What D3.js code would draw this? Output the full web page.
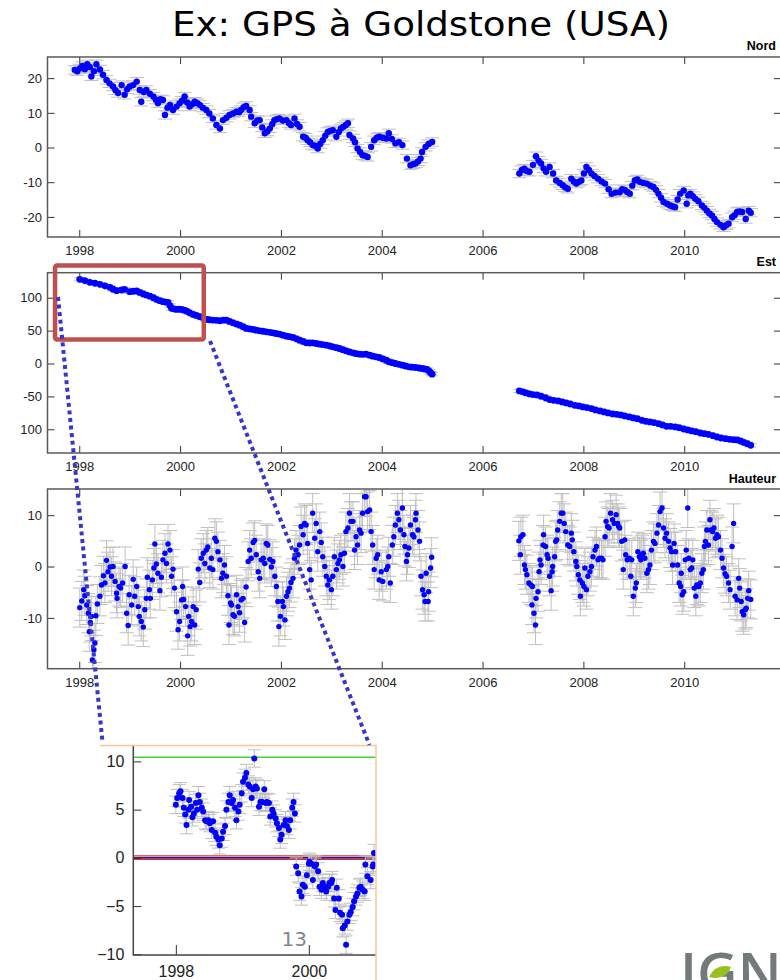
<!DOCTYPE html>
<html>
<head>
<meta charset="utf-8">
<script src="https://cdn.jsdelivr.net/npm/d3@7"></script>
<style>
  body { margin: 0; background: #fff; }
  svg { display: block; }
</style>
</head>
<body>
<svg id="chart" width="780" height="980"></svg>
<script>
// ---- Station GOLD time series (mm) : [decimal year, value] ----
const yearTicks = [1998, 2000, 2002, 2004, 2006, 2008, 2010];

const nordTicks = [-20, -10, 0, 10, 20];
const nordA = [[1997.91,22.4],[1997.96,22.0],[1998.01,22.8],[1998.06,23.5],[1998.11,22.6],[1998.16,24.0],[1998.21,23.2],[1998.24,20.5],[1998.29,22.0],[1998.34,24.0],[1998.41,22.5],[1998.47,21.0],[1998.54,19.5],[1998.60,18.5],[1998.67,17.6],[1998.72,16.5],[1998.77,15.7],[1998.84,18.0],[1998.90,15.2],[1998.95,16.8],[1999.00,17.6],[1999.07,18.0],[1999.14,19.0],[1999.20,16.6],[1999.23,13.2],[1999.28,16.0],[1999.33,16.6],[1999.40,15.5],[1999.47,14.7],[1999.52,13.8],[1999.56,12.8],[1999.61,13.9],[1999.66,13.7],[1999.70,9.4],[1999.75,11.5],[1999.80,12.3],[1999.86,10.8],[1999.93,11.8],[1999.99,12.8],[2000.04,13.5],[2000.09,14.7],[2000.14,13.0],[2000.19,11.8],[2000.24,12.5],[2000.29,13.2],[2000.34,12.8],[2000.39,12.3],[2000.45,11.5],[2000.52,10.8],[2000.58,9.8],[2000.65,8.4],[2000.72,6.5],[2000.79,5.5],[2000.85,7.9],[2000.92,8.6],[2000.98,9.4],[2001.05,9.8],[2001.12,10.3],[2001.17,10.2],[2001.21,10.8],[2001.26,11.6],[2001.31,12.0],[2001.38,10.8],[2001.41,8.9],[2001.48,7.0],[2001.53,7.8],[2001.58,7.9],[2001.63,5.8],[2001.68,4.1],[2001.73,4.6],[2001.78,5.5],[2001.83,6.8],[2001.87,7.9],[2001.92,8.2],[2001.97,8.4],[2002.04,7.8],[2002.11,7.9],[2002.16,7.0],[2002.20,6.5],[2002.27,8.4],[2002.32,6.8],[2002.37,6.0],[2002.44,3.1],[2002.49,2.8],[2002.53,2.1],[2002.58,1.5],[2002.63,0.7],[2002.68,0.5],[2002.73,-0.3],[2002.78,1.0],[2002.83,2.1],[2002.88,3.4],[2002.93,4.5],[2002.98,4.8],[2003.03,5.0],[2003.10,3.1],[2003.15,4.5],[2003.19,5.5],[2003.24,6.0],[2003.29,6.5],[2003.33,7.0],[2003.36,3.6],[2003.43,2.6],[2003.47,1.5],[2003.52,-0.3],[2003.57,-1.3],[2003.62,-2.2],[2003.67,-2.4],[2003.72,-2.7],[2003.79,0.2],[2003.85,2.1],[2003.90,2.8],[2003.95,3.1],[2004.02,2.8],[2004.09,2.6],[2004.14,4.1],[2004.20,2.5],[2004.27,1.2],[2004.34,1.5],[2004.41,0.7],[2004.50,-3.2],[2004.57,-5.1],[2004.62,-4.8],[2004.67,-4.6],[2004.72,-4.0],[2004.77,-3.2],[2004.80,-1.3],[2004.87,0.2],[2004.93,1.0],[2005.00,1.6]];
const nordB = [[2006.73,-7.5],[2006.78,-6.5],[2006.83,-6.1],[2006.88,-6.8],[2006.93,-7.0],[2007.00,-5.0],[2007.06,-2.5],[2007.11,-3.8],[2007.16,-4.6],[2007.21,-6.0],[2007.26,-7.0],[2007.33,-5.6],[2007.40,-7.5],[2007.46,-9.5],[2007.53,-10.2],[2007.59,-10.9],[2007.64,-11.5],[2007.69,-11.9],[2007.76,-9.0],[2007.81,-9.8],[2007.86,-10.4],[2007.91,-9.9],[2007.96,-9.5],[2008.01,-7.5],[2008.06,-5.6],[2008.11,-6.5],[2008.16,-7.5],[2008.22,-8.2],[2008.29,-9.0],[2008.36,-9.8],[2008.43,-10.4],[2008.50,-12.0],[2008.56,-13.3],[2008.64,-13.0],[2008.72,-12.9],[2008.77,-12.0],[2008.82,-12.2],[2008.87,-12.8],[2008.92,-13.3],[2008.97,-11.0],[2009.02,-9.5],[2009.07,-9.2],[2009.12,-9.9],[2009.19,-10.2],[2009.26,-10.4],[2009.33,-11.0],[2009.39,-11.4],[2009.44,-12.2],[2009.49,-13.3],[2009.54,-14.5],[2009.59,-15.7],[2009.66,-16.2],[2009.72,-16.7],[2009.77,-17.0],[2009.82,-17.2],[2009.87,-15.0],[2009.92,-13.3],[2009.99,-12.4],[2010.05,-16.2],[2010.08,-13.8],[2010.12,-13.3],[2010.17,-14.0],[2010.22,-14.8],[2010.28,-15.5],[2010.35,-16.7],[2010.40,-17.4],[2010.45,-18.2],[2010.50,-19.0],[2010.55,-19.6],[2010.60,-20.6],[2010.65,-21.5],[2010.72,-22.3],[2010.78,-23.0],[2010.83,-22.4],[2010.88,-22.0],[2010.95,-20.1],[2011.00,-19.5],[2011.05,-18.6],[2011.10,-18.4],[2011.15,-18.6],[2011.22,-20.6],[2011.28,-18.2],[2011.32,-18.8]];

const estTicks = [-100, -50, 0, 50, 100];
const estTickLabels = ["100", "-50", "0", "50", "100"];
const estA = [[1998.01,127.9],[1998.11,126.0],[1998.21,123.4],[1998.31,122.0],[1998.41,120.3],[1998.51,118.0],[1998.61,115.7],[1998.67,113.0],[1998.74,110.7],[1998.84,111.7],[1998.90,112.7],[1999.00,109.1],[1999.07,109.8],[1999.14,110.2],[1999.20,108.0],[1999.27,105.6],[1999.33,104.0],[1999.40,102.5],[1999.47,100.0],[1999.53,97.5],[1999.60,95.5],[1999.66,93.9],[1999.71,93.4],[1999.76,92.9],[1999.80,88.0],[1999.83,83.8],[1999.88,83.0],[1999.93,82.2],[1999.98,82.5],[2000.03,82.2],[2000.08,81.0],[2000.13,79.7],[2000.19,77.0],[2000.26,74.6],[2000.32,73.0],[2000.39,71.1],[2000.46,69.0],[2000.52,67.0],[2000.58,66.5],[2000.65,66.0],[2000.72,65.6],[2000.79,65.0],[2000.86,65.8],[2000.92,66.0],[2000.98,64.0],[2001.05,61.9],[2001.12,60.0],[2001.18,58.4],[2001.25,56.0],[2001.31,53.3],[2001.38,52.5],[2001.45,51.8],[2001.51,50.6],[2001.58,49.7],[2001.64,49.0],[2001.71,48.2],[2001.78,47.4],[2001.84,46.7],[2001.90,45.6],[2001.97,44.7],[2002.04,43.0],[2002.11,41.6],[2002.17,40.8],[2002.24,39.6],[2002.31,37.5],[2002.37,35.5],[2002.44,33.5],[2002.50,31.5],[2002.57,31.2],[2002.63,31.5],[2002.70,30.4],[2002.77,29.4],[2002.83,28.8],[2002.90,27.9],[2002.97,26.6],[2003.03,25.4],[2003.10,24.1],[2003.16,22.8],[2003.23,21.0],[2003.29,19.3],[2003.36,17.6],[2003.43,16.2],[2003.49,15.0],[2003.56,14.2],[2003.62,14.0],[2003.69,14.2],[2003.76,12.6],[2003.82,11.2],[2003.89,10.2],[2003.95,9.1],[2004.02,7.0],[2004.09,5.1],[2004.14,2.5],[2004.21,1.2],[2004.27,0.0],[2004.34,-1.3],[2004.41,-2.5],[2004.47,-3.8],[2004.54,-5.1],[2004.60,-5.6],[2004.67,-6.1],[2004.74,-6.8],[2004.80,-7.6],[2004.85,-8.3],[2004.90,-9.1],[2004.94,-11.5],[2004.97,-14.2],[2005.00,-16.2]];
const estB = [[2006.73,-41.6],[2006.80,-43.0],[2006.86,-44.7],[2006.93,-46.2],[2007.00,-47.2],[2007.08,-47.8],[2007.16,-49.7],[2007.25,-52.0],[2007.33,-54.8],[2007.41,-56.0],[2007.50,-56.9],[2007.58,-58.4],[2007.66,-59.9],[2007.74,-61.4],[2007.83,-63.5],[2007.91,-64.5],[2007.99,-66.0],[2008.07,-67.0],[2008.16,-68.5],[2008.24,-70.6],[2008.33,-72.1],[2008.41,-73.6],[2008.49,-75.1],[2008.58,-76.6],[2008.66,-77.2],[2008.74,-78.2],[2008.82,-79.7],[2008.91,-81.2],[2008.99,-82.7],[2009.07,-83.8],[2009.16,-86.3],[2009.24,-87.8],[2009.32,-88.8],[2009.40,-89.8],[2009.49,-91.4],[2009.57,-93.4],[2009.65,-95.4],[2009.73,-95.4],[2009.82,-96.4],[2009.90,-97.5],[2009.99,-99.5],[2010.07,-101.0],[2010.15,-102.5],[2010.23,-103.6],[2010.32,-105.6],[2010.40,-106.6],[2010.48,-107.6],[2010.57,-109.6],[2010.65,-111.7],[2010.73,-113.2],[2010.82,-114.2],[2010.90,-115.2],[2010.98,-115.7],[2011.05,-116.2],[2011.12,-117.8],[2011.18,-119.8],[2011.25,-121.8],[2011.32,-124.4]];

const hautTicks = [-10, 0, 10];
const hautA = [[1998.01,-8.0],[1998.05,-6.7],[1998.09,-4.5],[1998.11,-5.7],[1998.15,-7.5],[1998.18,-9.1],[1998.20,-12.7],[1998.22,-10.9],[1998.24,-9.7],[1998.26,-18.2],[1998.29,-16.2],[1998.31,-14.9],[1998.33,-9.6],[1998.36,-7.3],[1998.41,-5.8],[1998.44,-3.6],[1998.48,-1.8],[1998.51,-3.2],[1998.54,1.2],[1998.57,-1.0],[1998.61,-0.1],[1998.64,-1.9],[1998.67,0],[1998.71,-2.9],[1998.74,-5.2],[1998.75,-6.2],[1998.79,-3.9],[1998.82,-4.2],[1998.86,-3.2],[1998.91,0],[1998.94,-9.1],[1998.97,-11.5],[1998.99,-5.5],[1999.04,-7.5],[1999.07,-2.5],[1999.10,-5.8],[1999.14,-3.9],[1999.17,-7.8],[1999.19,-9.7],[1999.23,-10.7],[1999.27,-11.8],[1999.30,-8.4],[1999.33,-6.2],[1999.35,-2.1],[1999.39,-4.5],[1999.41,-6.2],[1999.45,-2.6],[1999.48,-0.3],[1999.50,4.4],[1999.53,0.5],[1999.56,-1.3],[1999.60,-4.7],[1999.63,-2.1],[1999.66,1.3],[1999.70,2.6],[1999.73,0.6],[1999.76,4.4],[1999.80,3.2],[1999.83,-1.9],[1999.86,-0.5],[1999.89,-4.2],[1999.93,-8.8],[1999.96,-12.3],[1999.99,-10.7],[2000.03,-6.5],[2000.05,-3.9],[2000.07,-6.4],[2000.11,-7.8],[2000.15,-13.5],[2000.17,-9.7],[2000.20,-11.7],[2000.23,-10.7],[2000.26,-7.8],[2000.29,-11.4],[2000.32,-8.4],[2000.36,-0.5],[2000.39,-3.1],[2000.42,1.6],[2000.46,2.6],[2000.49,0.6],[2000.52,3.2],[2000.55,3.8],[2000.59,-0.3],[2000.62,1.6],[2000.65,-0.6],[2000.69,5.5],[2000.72,4.9],[2000.75,2.9],[2000.79,1.3],[2000.82,-2.3],[2000.85,-1.3],[2000.88,0.3],[2000.92,-1.9],[2000.95,-5.7],[2000.97,-11.4],[2001.00,-7.1],[2001.02,-7.5],[2001.05,-9.4],[2001.08,-9.7],[2001.12,-5.5],[2001.15,-7.8],[2001.18,-9.0],[2001.21,-6.5],[2001.25,-6.2],[2001.28,-10.9],[2001.31,-4.0],[2001.35,1.0],[2001.38,3.2],[2001.41,1.6],[2001.45,4.7],[2001.48,5.1],[2001.51,2.3],[2001.55,-1.0],[2001.58,-2.3],[2001.61,1.3],[2001.65,1.6],[2001.68,0.6],[2001.71,4.5],[2001.74,4.2],[2001.78,1.4],[2001.81,-0.1],[2001.84,1.0],[2001.88,-1.9],[2001.91,-3.9],[2001.94,-6.8],[2001.96,-11.7],[2001.99,-9.7],[2002.03,-6.8],[2002.05,-7.8],[2002.08,-10.4],[2002.11,-5.8],[2002.14,-4.9],[2002.17,-4.2],[2002.20,-3.1],[2002.24,-2.3],[2002.27,1.6],[2002.30,3.2],[2002.34,2.3],[2002.37,4.2],[2002.40,7.8],[2002.44,6.2],[2002.47,8.4],[2002.50,8.1],[2002.53,4.5],[2002.57,-0.6],[2002.60,-2.6],[2002.63,10.4],[2002.67,5.5],[2002.70,8.4],[2002.73,2.9],[2002.77,6.8],[2002.80,4.7],[2002.83,1.9],[2002.87,0],[2002.90,-1.9],[2002.93,-3.6],[2002.96,-2.6],[2003.00,-4.5],[2003.03,-1.9],[2003.06,1.9],[2003.10,-0.6],[2003.13,0.6],[2003.16,1.3],[2003.19,2.3],[2003.23,0],[2003.26,2.6],[2003.29,6.8],[2003.33,7.5],[2003.36,10.4],[2003.39,8.8],[2003.43,8.8],[2003.46,3.2],[2003.49,5.8],[2003.52,4.2],[2003.56,7.1],[2003.59,6.5],[2003.62,10.4],[2003.66,13.6],[2003.69,13.6],[2003.72,10.7],[2003.76,11.0],[2003.79,6.8],[2003.82,4.2],[2003.85,-0.6],[2003.89,1.6],[2003.92,2.3],[2003.95,-2.6],[2003.99,-1.0],[2004.02,-2.9],[2004.09,-0.6],[2004.12,0],[2004.14,1.9],[2004.17,-3.2],[2004.21,4.2],[2004.24,5.8],[2004.27,8.1],[2004.31,10.4],[2004.34,9.1],[2004.37,7.1],[2004.41,11.4],[2004.44,6.2],[2004.46,3.9],[2004.49,1.0],[2004.51,2.3],[2004.54,3.6],[2004.57,8.1],[2004.61,6.2],[2004.64,5.8],[2004.67,9.1],[2004.68,10.4],[2004.72,7.1],[2004.75,4.9],[2004.78,-1.9],[2004.81,-4.5],[2004.84,-5.5],[2004.86,-6.8],[2004.88,-1.3],[2004.92,-6.8],[2004.93,-4.9],[2004.97,-0.3],[2004.99,1.8]];
const hautB = [[2006.72,5.0],[2006.75,2.3],[2006.76,5.8],[2006.80,6.2],[2006.83,0.3],[2006.85,-0.6],[2006.88,-1.6],[2006.92,-3.2],[2006.96,-3.6],[2006.98,-7.5],[2006.99,-3.9],[2007.02,-9.1],[2007.05,-11.4],[2007.06,-6.2],[2007.10,-4.9],[2007.12,-1.0],[2007.14,1.3],[2007.16,0.3],[2007.20,4.2],[2007.21,6.2],[2007.25,3.9],[2007.28,2.3],[2007.30,1.6],[2007.33,-1.9],[2007.36,-4.7],[2007.38,-1.0],[2007.39,0],[2007.43,1.9],[2007.45,4.9],[2007.47,5.2],[2007.49,7.1],[2007.53,8.8],[2007.56,10.4],[2007.59,10.4],[2007.62,8.4],[2007.65,6.8],[2007.69,4.2],[2007.73,3.9],[2007.76,6.5],[2007.78,5.2],[2007.81,2.9],[2007.85,1.0],[2007.87,0],[2007.90,-1.6],[2007.93,-2.6],[2007.94,-5.8],[2007.98,-3.2],[2008.01,-3.9],[2008.03,-0.3],[2008.06,-4.5],[2008.09,-1.9],[2008.13,-1.0],[2008.16,0],[2008.19,1.9],[2008.23,3.2],[2008.26,3.9],[2008.29,1.3],[2008.32,1.6],[2008.36,1.6],[2008.39,1.3],[2008.43,5.8],[2008.45,8.8],[2008.48,7.8],[2008.51,7.5],[2008.54,10.4],[2008.58,9.1],[2008.61,8.4],[2008.65,10.1],[2008.68,8.4],[2008.70,7.8],[2008.72,7.5],[2008.76,4.9],[2008.79,-0.6],[2008.82,5.2],[2008.84,2.3],[2008.87,1.3],[2008.91,1.6],[2008.94,-1.9],[2008.96,1.3],[2008.99,-5.8],[2009.03,-4.2],[2009.05,-3.2],[2009.08,2.9],[2009.11,1.9],[2009.14,1.3],[2009.16,2.3],[2009.19,2.6],[2009.22,1.6],[2009.26,-1.3],[2009.29,-0.6],[2009.32,0.3],[2009.35,3.2],[2009.39,4.9],[2009.42,4.5],[2009.46,6.5],[2009.49,8.1],[2009.52,10.7],[2009.56,11.4],[2009.59,7.5],[2009.62,5.5],[2009.65,6.5],[2009.69,4.9],[2009.72,3.6],[2009.75,2.9],[2009.77,0.3],[2009.80,4.5],[2009.83,2.9],[2009.87,0.3],[2009.90,-3.2],[2009.93,-3.9],[2009.94,-1.3],[2009.96,-5.5],[2009.99,-4.9],[2010.02,1.3],[2010.04,3.2],[2010.07,11.4],[2010.09,1.6],[2010.12,-0.6],[2010.15,-0.3],[2010.17,1.3],[2010.20,-4.2],[2010.23,-5.8],[2010.25,-3.6],[2010.29,-3.9],[2010.32,-3.2],[2010.35,-1.3],[2010.38,-0.6],[2010.40,3.9],[2010.42,4.9],[2010.45,7.1],[2010.48,4.2],[2010.51,9.1],[2010.53,7.1],[2010.56,6.8],[2010.59,7.5],[2010.62,5.5],[2010.65,6.2],[2010.68,5.8],[2010.72,3.2],[2010.75,1.6],[2010.78,-0.3],[2010.81,-1.4],[2010.84,-1.9],[2010.88,-3.2],[2010.91,-4.5],[2010.95,3.9],[2010.98,8.4],[2011.01,-5.8],[2011.05,-6.5],[2011.08,-2.3],[2011.10,-4.2],[2011.13,-6.8],[2011.15,-8.8],[2011.18,-9.4],[2011.21,-8.4],[2011.23,-8.1],[2011.26,-6.2],[2011.28,-4.7],[2011.32,-6.4]];

// Close-up of the 1998-2000 vertical residuals
const zoomYears = [1998, 2000];
const zoomTicks = [-10, -5, 0, 5, 10];
const zoomLevels = [10.42, 0.2, 0, -0.17];
const zoomPts = [[1998.00,5.5],[1998.02,6.2],[1998.05,6.7],[1998.07,6.9],[1998.10,6.2],[1998.12,5.2],[1998.14,4.5],[1998.16,3.4],[1998.19,5.0],[1998.20,6.0],[1998.23,5.3],[1998.25,4.2],[1998.27,4.6],[1998.30,5.7],[1998.32,5.0],[1998.34,6.5],[1998.36,5.8],[1998.39,5.2],[1998.41,4.8],[1998.44,3.9],[1998.46,3.8],[1998.49,3.9],[1998.51,3.6],[1998.54,2.9],[1998.56,3.8],[1998.59,2.6],[1998.61,2.2],[1998.64,1.9],[1998.66,1.3],[1998.69,2.0],[1998.71,2.7],[1998.74,3.3],[1998.76,5.0],[1998.79,5.8],[1998.81,6.5],[1998.84,5.7],[1998.86,6.0],[1998.89,5.2],[1998.91,3.9],[1998.94,4.8],[1998.96,5.5],[1998.99,6.7],[1999.01,7.9],[1999.04,8.3],[1999.06,8.8],[1999.09,7.6],[1999.11,7.4],[1999.14,6.2],[1999.16,7.1],[1999.18,10.3],[1999.20,7.4],[1999.22,7.2],[1999.25,5.3],[1999.27,5.8],[1999.30,5.8],[1999.33,7.1],[1999.35,5.7],[1999.37,5.8],[1999.40,5.7],[1999.42,4.3],[1999.45,5.0],[1999.47,4.6],[1999.50,4.1],[1999.52,3.6],[1999.55,3.1],[1999.57,1.9],[1999.59,2.4],[1999.62,3.4],[1999.65,3.9],[1999.67,3.3],[1999.70,2.9],[1999.72,3.9],[1999.75,5.2],[1999.77,5.8],[1999.79,4.6],[1999.81,-0.9],[1999.84,-1.6],[1999.86,-3.5],[1999.89,-4.0],[1999.91,-2.8],[1999.94,-3.0],[1999.97,-1.8],[2000.00,-0.6],[2000.01,-0.4],[2000.04,-0.6],[2000.06,-2.3],[2000.09,-0.9],[2000.11,-0.7],[2000.14,-1.4],[2000.16,-3.0],[2000.19,-3.3],[2000.21,-2.6],[2000.24,-3.0],[2000.26,-3.5],[2000.29,-3.0],[2000.31,-2.6],[2000.34,-2.6],[2000.35,-2.3],[2000.38,-4.2],[2000.40,-5.4],[2000.42,-3.1],[2000.45,-4.2],[2000.47,-5.7],[2000.50,-5.9],[2000.51,-7.3],[2000.54,-7.0],[2000.56,-9.0],[2000.58,-6.6],[2000.61,-5.9],[2000.63,-5.6],[2000.66,-5.1],[2000.68,-4.5],[2000.71,-4.0],[2000.73,-3.7],[2000.76,-3.1],[2000.78,-3.0],[2000.81,-3.3],[2000.84,-3.5],[2000.85,-0.7],[2000.88,-1.9],[2000.93,-2.3],[2000.96,-0.9],[2000.97,-0.7],[2000.98,0.5]];

// ---- drawing ----
const svg = d3.select("#chart");
const defs = svg.append("defs");
const AXIS_FONT = "'Liberation Sans', Arial, sans-serif";
const xDomain = [1997.37, 2011.92];
const PLOT_L = 47.5, PLOT_R = 781;

function styleAxis(sel, size) {
  sel.select(".domain").remove();
  sel.selectAll(".tick line").attr("stroke", "#333").attr("stroke-width", 1);
  sel.selectAll(".tick text")
    .attr("fill", "#222")
    .attr("font-family", AXIS_FONT)
    .attr("font-size", size);
}

function drawErrorsAndDots(layer, pts, x, y, err, capW, r) {
  const eb = layer.append("g").attr("stroke", "#bfbfbf").attr("stroke-width", 1);
  eb.selectAll("line.v").data(pts).join("line").attr("class", "v")
    .attr("x1", d => x(d[0])).attr("x2", d => x(d[0]))
    .attr("y1", d => y(d[1] - err)).attr("y2", d => y(d[1] + err));
  eb.selectAll("line.lo").data(pts).join("line").attr("class", "lo")
    .attr("x1", d => x(d[0]) - capW / 2).attr("x2", d => x(d[0]) + capW / 2)
    .attr("y1", d => y(d[1] - err)).attr("y2", d => y(d[1] - err));
  eb.selectAll("line.hi").data(pts).join("line").attr("class", "hi")
    .attr("x1", d => x(d[0]) - capW / 2).attr("x2", d => x(d[0]) + capW / 2)
    .attr("y1", d => y(d[1] + err)).attr("y2", d => y(d[1] + err));
  layer.append("g").selectAll("circle").data(pts).join("circle")
    .attr("cx", d => x(d[0])).attr("cy", d => y(d[1]))
    .attr("r", r).attr("fill", "#0000ff");
}

function drawPanel(o) {
  const x = d3.scaleLinear().domain(xDomain).range([PLOT_L, PLOT_R]);
  const y = d3.scaleLinear().domain(o.yDomain).range([o.bottom, o.top]);
  const g = svg.append("g");

  defs.append("clipPath").attr("id", "clip-" + o.id)
    .append("rect").attr("x", PLOT_L).attr("y", o.top)
    .attr("width", PLOT_R - PLOT_L).attr("height", o.bottom - o.top);
  const plot = g.append("g").attr("clip-path", `url(#clip-${o.id})`);
  drawErrorsAndDots(plot, o.segs.flat(), x, y, o.err, o.capW, o.r);

  // axes, ticks pointing inwards
  g.append("g").attr("transform", `translate(0,${o.bottom})`)
    .call(d3.axisBottom(x).tickValues(yearTicks).tickFormat(d3.format("d")).tickSize(-7).tickPadding(9))
    .call(s => styleAxis(s, 13));
  g.append("g").attr("transform", `translate(0,${o.top})`)
    .call(d3.axisTop(x).tickValues(yearTicks).tickFormat("").tickSize(-7))
    .call(s => styleAxis(s, 13));
  g.append("g").attr("transform", `translate(${PLOT_L},0)`)
    .call(d3.axisLeft(y).tickValues(o.ticks).tickFormat((d, i) => o.labels ? o.labels[i] : d).tickSize(-7).tickPadding(5.5))
    .call(s => styleAxis(s, 13));
  g.append("g").attr("transform", `translate(${PLOT_R},0)`)
    .call(d3.axisRight(y).tickValues(o.ticks).tickFormat("").tickSize(-7))
    .call(s => styleAxis(s, 13));

  g.append("rect").attr("x", PLOT_L).attr("y", o.top)
    .attr("width", PLOT_R - PLOT_L).attr("height", o.bottom - o.top)
    .attr("fill", "none").attr("stroke", "#5a5a5a").attr("stroke-width", 1.5);

  g.append("text").attr("x", 776).attr("y", o.labelY)
    .attr("text-anchor", "end").attr("font-family", AXIS_FONT)
    .attr("font-weight", "bold").attr("font-size", 12.5).attr("fill", "#000")
    .text(o.name);
  return { x, y };
}

// title
svg.append("text").attr("x", 172).attr("y", 36)
  .attr("font-family", "'DejaVu Sans', sans-serif").attr("font-size", 34).attr("fill", "#000")
  .attr("textLength", 498).attr("lengthAdjust", "spacingAndGlyphs")
  .text("Ex: GPS à Goldstone (USA)");

drawPanel({ id: "nord", name: "Nord", top: 57, bottom: 237, labelY: 50, yDomain: [-25.8, 26.1],
  ticks: nordTicks, segs: [nordA, nordB], err: 1.2, capW: 14, r: 3.2 });
const est = drawPanel({ id: "est", name: "Est", top: 272.7, bottom: 453, labelY: 266, yDomain: [-136, 138],
  ticks: estTicks, labels: estTickLabels, segs: [estA, estB], err: 2.5, capW: 12, r: 3.4 });
drawPanel({ id: "haut", name: "Hauteur", top: 489, bottom: 668.7, labelY: 482.5, yDomain: [-19.9, 15.1],
  ticks: hautTicks, segs: [hautA, hautB], err: 3.8, capW: 14, r: 2.7 });

// ---- close-up inset ----
const zx = d3.scaleLinear().domain([1997.36, 2001.01]).range([133.3, 376]);
const zy = d3.scaleLinear().domain([-10.07, 11.7]).range([955, 745]);
const inset = svg.append("g");
defs.append("clipPath").attr("id", "clip-zoom")
  .append("rect").attr("x", 133.3).attr("y", 745).attr("width", 376 - 133.3).attr("height", 210);
const zplot = inset.append("g").attr("clip-path", "url(#clip-zoom)");
const levelColors = ["#3ad63a", "#e8282a", "#1f1f9a", "#e8282a"];
const levelWidths = [1.5, 1.2, 1.8, 1.2];
zplot.selectAll("line.lvl").data(zoomLevels).join("line").attr("class", "lvl")
  .attr("x1", 133.3).attr("x2", 376)
  .attr("y1", d => zy(d)).attr("y2", d => zy(d))
  .attr("stroke", (d, i) => levelColors[i]).attr("stroke-width", (d, i) => levelWidths[i]);
drawErrorsAndDots(zplot, zoomPts, zx, zy, 0.9, 13, 3);

inset.append("g").attr("transform", "translate(0,955)")
  .call(d3.axisBottom(zx).tickValues(zoomYears).tickFormat(d3.format("d")).tickSize(-10).tickPadding(11))
  .call(s => styleAxis(s, 16));
inset.append("g").attr("transform", "translate(133.3,0)")
  .call(d3.axisLeft(zy).tickValues(zoomTicks).tickSize(-8).tickPadding(9))
  .call(s => styleAxis(s, 16));
inset.append("path").attr("d", "M133.3,745V955H376")
  .attr("fill", "none").attr("stroke", "#444").attr("stroke-width", 1.5);
inset.append("path").attr("d", "M100,745.5H376V980")
  .attr("fill", "none").attr("stroke", "#f7c79b").attr("stroke-width", 1.5);

// highlight box on the Est panel and the guide lines down to the inset
const boxYears = [1997.52, 2000.47];
svg.append("rect")
  .attr("x", est.x(boxYears[0])).attr("y", 265.5)
  .attr("width", est.x(boxYears[1]) - est.x(boxYears[0])).attr("height", 74)
  .attr("rx", 2).attr("fill", "none").attr("stroke", "#c0504d").attr("stroke-width", 4.5);
const guides = [[[58, 297], [102.5, 742]], [[210, 341], [369.5, 745]]];
svg.selectAll("path.guide").data(guides).join("path").attr("class", "guide")
  .attr("d", d => d3.line()(d))
  .attr("stroke", "#3636c8").attr("stroke-width", 4).attr("stroke-dasharray", "4,3.6")
  .attr("fill", "none");

// slide number
svg.append("text").attr("x", 281.5).attr("y", 946)
  .attr("font-family", "'DejaVu Sans', sans-serif").attr("font-size", 20).attr("fill", "#7f8790")
  .text("13");

// IGN logo
const logo = svg.append("g");
logo.append("text").attr("x", 680).attr("y", 993)
  .attr("font-family", "'Open Sans', sans-serif").attr("font-weight", 600).attr("font-size", 56)
  .attr("fill", "#737a7c").text("IGN");
logo.append("path")
  .attr("d", "M709,977 Q716,963 731,967 Q726,981 709,977 Z")
  .attr("fill", "#95c11f");
</script>
</body>
</html>
